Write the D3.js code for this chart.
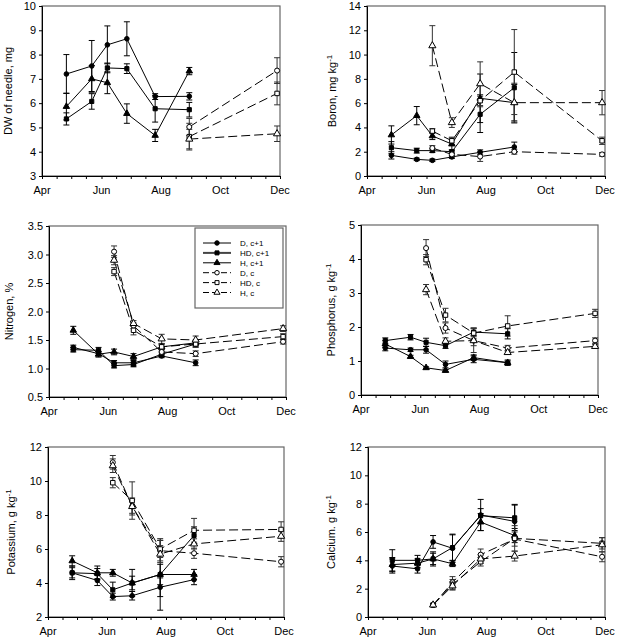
<!DOCTYPE html>
<html><head><meta charset="utf-8">
<script src="https://cdn.jsdelivr.net/npm/d3@7"></script>
<style>body{margin:0;background:#fff;} text{font-family:"Liberation Sans",Arial,sans-serif;fill:#000;}</style>
</head><body>
<svg id="chart" width="620" height="639"></svg>
<script>
// ---------- data ----------
const year = "2003";
const xDomain = ["04-01", "12-01"];
const xTickLabels = ["Apr", "Jun", "Aug", "Oct", "Dec"];
const xTickLabelDates = ["04-01", "06-01", "08-01", "10-01", "12-01"];
const datesPrev = ["04-26", "05-22", "06-07", "06-27", "07-26", "08-30"]; // c+1 needles
const datesCurr = ["06-07", "06-27", "07-26", "08-30", "11-28"];          // c needles
const datesCurrDW = ["08-30", "11-28"];

const seriesNames = ["D, c+1", "HD, c+1", "H, c+1", "D, c", "HD, c", "H, c"];

// DW of needle, mg
const dw_Dc1 = [7.2, 7.53, 8.4, 8.65, 6.27, 6.28];   const dw_Dc1_e = [0.8, 1.05, 0.78, 0.7, 0.12, 0.15];
const dw_HDc1 = [5.35, 6.07, 7.45, 7.42, 5.77, 5.73]; const dw_HDc1_e = [0.25, 0.32, 0.2, 0.2, 0.55, 0.3];
const dw_Hc1 = [5.86, 7.0, 6.84, 5.57, 4.67, 7.32];  const dw_Hc1_e = [0.55, 0.55, 0.45, 0.4, 0.25, 0.15];
const dw_Dc = [5.02, 7.34];  const dw_Dc_e = [0.35, 0.53];
const dw_HDc = [4.62, 6.4];  const dw_HDc_e = [0.55, 0.47];
const dw_Hc = [4.52, 4.74];  const dw_Hc_e = [0.4, 0.32];

// Boron, mg kg-1
const b_Dc1 = [1.7, 1.37, 1.29, 1.57, 1.95, 2.39];  const b_Dc1_e = [0.3, 0.1, 0.1, 0.12, 0.2, 0.4];
const b_HDc1 = [2.33, 2.09, 2.09, 2.0, 5.08, 7.27]; const b_HDc1_e = [0.5, 0.2, 0.15, 0.15, 1.5, 2.9];
const b_Hc1 = [3.38, 4.97, 3.3, 2.63, 6.4, 6.04];   const b_Hc1_e = [0.75, 0.75, 0.3, 0.5, 2.0, 1.5];
const b_Dc = [2.3, 1.78, 1.6, 2.0, 1.78];    const b_Dc_e = [0.2, 0.2, 0.4, 0.2, 0.15];
const b_HDc = [3.7, 2.9, 6.2, 8.56, 2.9];    const b_HDc_e = [0.2, 0.3, 0.5, 3.5, 0.3];
const b_Hc = [10.73, 4.4, 7.6, 6.04, 6.04];  const b_Hc_e = [1.65, 0.4, 1.8, 1.6, 1.0];

// Nitrogen, %
const n_Dc1 = [1.37, 1.26, 1.10, 1.10, 1.22, 1.10];  const n_Dc1_e = [0.04, 0.04, 0.04, 0.04, 0.03, 0.05];
const n_HDc1 = [1.33, 1.32, 1.05, 1.07, 1.25, 1.43]; const n_HDc1_e = [0.04, 0.05, 0.04, 0.04, 0.04, 0.05];
const n_Hc1 = [1.67, 1.25, 1.29, 1.21, 1.38, 1.45];  const n_Hc1_e = [0.07, 0.05, 0.05, 0.05, 0.05, 0.05];
const n_Dc = [3.05, 1.75, 1.29, 1.26, 1.47];   const n_Dc_e = [0.1, 0.05, 0.05, 0.05, 0.04];
const n_HDc = [2.70, 1.67, 1.38, 1.43, 1.56];  const n_HDc_e = [0.07, 0.08, 0.05, 0.06, 0.05];
const n_Hc = [2.90, 1.79, 1.52, 1.50, 1.70];   const n_Hc_e = [0.08, 0.05, 0.08, 0.07, 0.05];

// Phosphorus, g kg-1
const p_Dc1 = [1.38, 1.33, 1.33, 0.9, 1.05, 0.95];  const p_Dc1_e = [0.08, 0.05, 0.1, 0.1, 0.1, 0.08];
const p_HDc1 = [1.6, 1.7, 1.55, 1.45, 1.85, 1.8];   const p_HDc1_e = [0.08, 0.08, 0.12, 0.08, 0.12, 0.15];
const p_Hc1 = [1.5, 1.13, 0.8, 0.72, 1.1, 0.95];    const p_Hc1_e = [0.1, 0.04, 0.03, 0.04, 0.08, 0.05];
const p_Dc = [4.32, 1.97, 1.6, 1.38, 1.6];   const p_Dc_e = [0.25, 0.15, 0.35, 0.08, 0.08];
const p_HDc = [3.98, 2.35, 1.82, 2.03, 2.4]; const p_HDc_e = [0.15, 0.2, 0.15, 0.3, 0.12];
const p_Hc = [3.1, 1.58, 1.6, 1.25, 1.43];   const p_Hc_e = [0.15, 0.1, 0.15, 0.05, 0.05];

// Potassium, g kg-1
const k_Dc1 = [4.6, 4.15, 3.2, 3.25, 3.75, 4.2];  const k_Dc1_e = [0.4, 0.3, 0.2, 0.25, 0.55, 0.3];
const k_HDc1 = [4.6, 4.55, 3.6, 4.0, 4.5, 6.8];   const k_HDc1_e = [0.3, 0.3, 0.45, 0.8, 0.6, 0.5];
const k_Hc1 = [5.3, 4.6, 4.6, 4.0, 4.5, 4.5];     const k_Hc1_e = [0.3, 0.4, 0.2, 0.4, 2.1, 0.3];
const k_Dc = [11.1, 8.5, 5.9, 5.75, 5.25];  const k_Dc_e = [0.4, 0.4, 0.6, 0.3, 0.3];
const k_HDc = [9.9, 8.85, 6.0, 7.1, 7.15];  const k_HDc_e = [0.3, 1.1, 0.5, 0.7, 0.45];
const k_Hc = [10.9, 8.5, 5.7, 6.3, 6.75];   const k_Hc_e = [0.4, 0.5, 0.5, 0.3, 0.3];

// Calcium, g kg-1
const c_Dc1 = [3.6, 3.4, 5.3, 4.85, 7.2, 6.75];  const c_Dc1_e = [0.5, 0.3, 0.45, 1.0, 1.1, 1.2];
const c_HDc1 = [4.0, 4.0, 4.1, 4.9, 7.15, 7.0];  const c_HDc1_e = [0.75, 0.35, 0.5, 0.9, 0.5, 0.9];
const c_Hc1 = [3.7, 3.8, 4.1, 3.76, 6.7, 5.75];  const c_Hc1_e = [0.5, 0.3, 0.4, 0.2, 0.6, 0.5];
const c_Dc = [0.85, 2.45, 4.4, 5.5, 4.25];  const c_Dc_e = [0.1, 0.4, 0.4, 0.5, 0.35];
const c_HDc = [0.85, 2.3, 3.9, 5.55, 5.2];  const c_HDc_e = [0.1, 0.35, 0.3, 0.9, 0.4];
const c_Hc = [0.85, 2.2, 4.1, 4.3, 5.1];    const c_Hc_e = [0.1, 0.3, 0.3, 0.35, 0.5];

// ---------- drawing ----------
const parse = d3.timeParse("%Y-%m-%d");
const D = s => parse(year + "-" + s);
const svg = d3.select("#chart");

const styles = [
  {sym: d3.symbolCircle, size: 17, filled: true, dashed: false},
  {sym: d3.symbolSquare, size: 17, filled: true, dashed: false},
  {sym: d3.symbolTriangle, size: 18, filled: true, dashed: false},
  {sym: d3.symbolCircle, size: 20, filled: false, dashed: true},
  {sym: d3.symbolSquare, size: 20, filled: false, dashed: true},
  {sym: d3.symbolTriangle, size: 22, filled: false, dashed: true}
];

function mk(prevSets, currSets, currDates) {
  const out = [];
  prevSets.forEach((s, i) => out.push({name: seriesNames[i], dates: datesPrev, v: s[0], e: s[1], st: styles[i]}));
  currSets.forEach((s, i) => out.push({name: seriesNames[i + 3], dates: currDates, v: s[0], e: s[1], st: styles[i + 3]}));
  return out;
}

const panels = [
  {box: [42, 280, 6, 176], ydom: [3, 10], step: 1, fmt: d3.format("d"), title: "DW of needle, mg", sup: null, tx: 12,
   series: mk([[dw_Dc1, dw_Dc1_e], [dw_HDc1, dw_HDc1_e], [dw_Hc1, dw_Hc1_e]], [[dw_Dc, dw_Dc_e], [dw_HDc, dw_HDc_e], [dw_Hc, dw_Hc_e]], datesCurrDW)},
  {box: [367, 605, 6, 176], ydom: [0, 14], step: 2, fmt: d3.format("d"), title: "Boron, mg kg", sup: "-1", tx: 336,
   series: mk([[b_Dc1, b_Dc1_e], [b_HDc1, b_HDc1_e], [b_Hc1, b_Hc1_e]], [[b_Dc, b_Dc_e], [b_HDc, b_HDc_e], [b_Hc, b_Hc_e]], datesCurr)},
  {box: [49, 286, 226, 397], ydom: [0.5, 3.5], step: 0.5, fmt: d3.format(".1f"), title: "Nitrogen, %", sup: null, tx: 13, legend: true,
   series: mk([[n_Dc1, n_Dc1_e], [n_HDc1, n_HDc1_e], [n_Hc1, n_Hc1_e]], [[n_Dc, n_Dc_e], [n_HDc, n_HDc_e], [n_Hc, n_Hc_e]], datesCurr)},
  {box: [361, 598, 225, 395], ydom: [0, 5], step: 1, fmt: d3.format("d"), title: "Phosphorus, g kg", sup: "-1", tx: 335,
   series: mk([[p_Dc1, p_Dc1_e], [p_HDc1, p_HDc1_e], [p_Hc1, p_Hc1_e]], [[p_Dc, p_Dc_e], [p_HDc, p_HDc_e], [p_Hc, p_Hc_e]], datesCurr)},
  {box: [48, 284, 447, 617], ydom: [2, 12], step: 2, fmt: d3.format("d"), title: "Potassium, g kg", sup: "-1", tx: 15,
   series: mk([[k_Dc1, k_Dc1_e], [k_HDc1, k_HDc1_e], [k_Hc1, k_Hc1_e]], [[k_Dc, k_Dc_e], [k_HDc, k_HDc_e], [k_Hc, k_Hc_e]], datesCurr)},
  {box: [368, 605, 447, 617], ydom: [0, 12], step: 2, fmt: d3.format("d"), title: "Calcium. g kg", sup: "-1", tx: 335,
   series: mk([[c_Dc1, c_Dc1_e], [c_HDc1, c_HDc1_e], [c_Hc1, c_Hc1_e]], [[c_Dc, c_Dc_e], [c_HDc, c_HDc_e], [c_Hc, c_Hc_e]], datesCurr)}
];

// minor ticks: 1st and 16th of each month
const tickDates = [];
for (let m = 4; m <= 12; m++) {
  tickDates.push(D(String(m).padStart(2, "0") + "-01"));
  if (m < 12) tickDates.push(D(String(m).padStart(2, "0") + "-16"));
}

function marker(g, st, x, y) {
  g.append("path")
    .attr("d", d3.symbol().type(st.sym).size(st.size)())
    .attr("transform", `translate(${x},${y})`)
    .attr("fill", st.filled ? "#000" : "#fff")
    .attr("stroke", "#000").attr("stroke-width", 1);
}

panels.forEach(p => {
  const [x0, x1, y0, y1] = p.box;
  const x = d3.scaleTime().domain(xDomain.map(D)).range([x0, x1]);
  const y = d3.scaleLinear().domain(p.ydom).range([y1, y0]);
  const g = svg.append("g");

  // frame
  g.append("rect").attr("x", x0).attr("y", y0).attr("width", x1 - x0).attr("height", y1 - y0)
    .attr("fill", "none").attr("stroke", "#666").attr("stroke-width", 1.2);

  // y axis
  const yt = d3.range(p.ydom[0], p.ydom[1] + p.step / 2, p.step);
  const ya = g.append("g").attr("transform", `translate(${x0},0)`)
    .call(d3.axisLeft(y).tickValues(yt).tickFormat(p.fmt).tickSize(3).tickPadding(3));
  ya.select(".domain").attr("stroke", "#000");
  ya.selectAll("text").style("font-size", "11px").style("font-family", "Liberation Sans, Arial, sans-serif");

  // x axis
  const xa = g.append("g").attr("transform", `translate(0,${y1})`)
    .call(d3.axisBottom(x).tickValues(tickDates).tickFormat("").tickSize(3).tickSizeOuter(0));
  xa.select(".domain").attr("stroke", "#000");
  xTickLabelDates.forEach((d, i) => {
    g.append("text").attr("x", x(D(d))).attr("y", y1 + 18).attr("text-anchor", "middle")
      .style("font-size", "11px").text(xTickLabels[i]);
  });

  // y title
  const t = g.append("text").attr("transform", `translate(${p.tx},${(y0 + y1) / 2}) rotate(-90)`)
    .attr("text-anchor", "middle").style("font-size", "11px");
  t.append("tspan").text(p.title);
  if (p.sup) t.append("tspan").attr("dy", -4).style("font-size", "8px").text(p.sup);

  const line = d3.line().x(d => x(d.d)).y(d => y(d.v));

  // lines
  p.series.forEach(s => {
    const pts = s.v.map((v, i) => ({d: D(s.dates[i]), v: v, e: s.e[i]}));
    s.pts = pts;
    g.append("path").datum(pts).attr("d", line).attr("fill", "none")
      .attr("stroke", "#000").attr("stroke-width", 1)
      .attr("stroke-dasharray", s.st.dashed ? "9,4" : null);
  });
  // error bars
  p.series.forEach(s => {
    s.pts.forEach(pt => {
      const cx = x(pt.d), ya1 = y(pt.v - pt.e), yb = y(pt.v + pt.e);
      const col = s.st.dashed ? "#333" : "#000";
      g.append("line").attr("x1", cx).attr("x2", cx).attr("y1", ya1).attr("y2", yb).attr("stroke", col).attr("stroke-width", 1);
      [ya1, yb].forEach(yy => g.append("line").attr("x1", cx - 3).attr("x2", cx + 3).attr("y1", yy).attr("y2", yy).attr("stroke", col).attr("stroke-width", 1));
    });
  });
  // markers
  p.series.forEach(s => s.pts.forEach(pt => marker(g, s.st, x(pt.d), y(pt.v))));

  // legend
  if (p.legend) {
    const lx = 195, ly = 228, lw = 88, lh = 80;
    const lg = g.append("g");
    lg.append("rect").attr("x", lx).attr("y", ly).attr("width", lw).attr("height", lh)
      .attr("fill", "#fff").attr("stroke", "#666").attr("stroke-width", 1.2);
    seriesNames.forEach((n, i) => {
      const yy = ly + 15 + i * 9.9;
      const st = styles[i];
      lg.append("line").attr("x1", lx + 8).attr("x2", lx + 36).attr("y1", yy).attr("y2", yy)
        .attr("stroke", i === 1 ? "#444" : "#000").attr("stroke-width", i === 1 ? 2 : 1)
        .attr("stroke-dasharray", st.dashed ? "6,3" : null);
      marker(lg, Object.assign({}, st, {size: 16}), lx + 22, yy);
      lg.append("text").attr("x", lx + 45).attr("y", yy + 3).attr("fill", "#000")
        .style("font-size", "8px").text(n);
    });
  }
});
</script>
</body></html>
